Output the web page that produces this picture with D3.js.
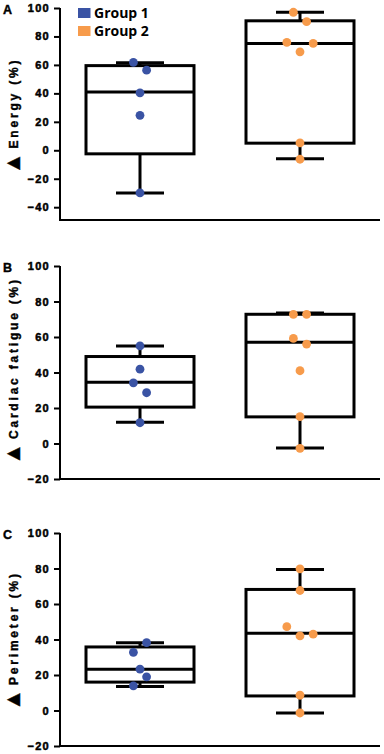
<!DOCTYPE html>
<html><head><meta charset="utf-8">
<script src="https://cdn.jsdelivr.net/npm/d3@7"></script>
<style>body{margin:0;background:#fff}svg{display:block}</style>
</head><body>
<svg id="chart" width="384" height="754"></svg>
<script>
const groups = ["Group 1", "Group 2"];
const colors = ["#3a53a4", "#f79b4b"];
const yTicks = [[-40,-20,0,20,40,60,80,100],[-20,0,20,40,60,80,100],[-20,0,20,40,60,80,100]];
const panelLetters = ["A","B","C"];
const panelLabels = ["Energy (%)", "Cardiac fatigue (%)", "Perimeter (%)"];

// box stats: [whiskerLow, q1, median, q3, whiskerHigh]
const energyStats = [[-30, -2.5, 41, 59.5, 61.5], [-6, 5, 75, 91, 97]];
const fatigueStats = [[12, 20.5, 34.5, 49, 55], [-2.5, 15, 57, 72.8, 73.5]];
const perimeterStats = [[13.5, 16, 23.2, 35.8, 38.2], [-1.4, 8.2, 43.5, 68.2, 79.5]];

// individual points
const energyG1 = [61.8, 56.3, 40.4, 24.6, -30];
const energyG2 = [97, 90.4, 75.8, 75.1, 69.2, 5.2, -6.3];
const fatigueG1 = [55, 41.9, 34.2, 28.6, 11.7];
const fatigueG2 = [72.8, 72.8, 59.2, 56, 41, 15.1, -2.7];
const perimeterG1 = [38.2, 32.8, 23.3, 19, 13.9];
const perimeterG2 = [79.8, 67.6, 47.2, 42, 43, 8.6, -1.4];
// beeswarm column index of each point
const energyG1Col = [-1, 1, 0, 0, 0];
const energyG2Col = [-1, 1, -2, 2, 0, 0, 0];
const fatigueG1Col = [0, 0, -1, 1, 0];
const fatigueG2Col = [-1, 1, -1, 1, 0, 0, 0];
const perimeterG1Col = [1, -1, 0, 1, -1];
const perimeterG2Col = [0, 0, -2, 0, 2, 0, 0];

const panels = [
  {stats: energyStats, pts: [energyG1, energyG2], cols: [energyG1Col, energyG2Col], dom: [-49, 100], range: [220, 8], labelY: 116},
  {stats: fatigueStats, pts: [fatigueG1, fatigueG2], cols: [fatigueG1Col, fatigueG2Col], dom: [-20, 100], range: [479, 266], labelY: 371},
  {stats: perimeterStats, pts: [perimeterG1, perimeterG2], cols: [perimeterG1Col, perimeterG2Col], dom: [-20, 100], range: [746, 533], labelY: 641}
];

const FONT = "'Liberation Sans', Arial, sans-serif";
const svg = d3.select("#chart");
const x = d3.scalePoint().domain(groups).range([60, 380]).padding(0.5);
const boxW = 108, capW = 48, colStep = 6.6;

panels.forEach((p, i) => {
  const y = d3.scaleLinear().domain(p.dom).range(p.range);
  const g = svg.append("g");
  // y axis
  const ax = g.append("g").attr("transform", "translate(60,0)")
    .call(d3.axisLeft(y).tickValues(yTicks[i]).tickSize(6).tickPadding(4).tickFormat(d3.format("d")));
  ax.select(".domain").attr("stroke", "#000").attr("stroke-width", 2).attr("d", `M0,${p.range[0]}V${p.range[1]}`);
  ax.selectAll(".tick line").attr("stroke", "#000").attr("stroke-width", 2);
  ax.selectAll(".tick text").attr("font-family", FONT)
    .attr("font-weight", "bold").attr("font-size", 11).attr("letter-spacing", 1.3)
    .attr("fill", "#000").attr("stroke", "#000").attr("stroke-width", 0.5);
  // x axis line
  g.append("line").attr("x1", 59).attr("x2", 380).attr("y1", p.range[0]).attr("y2", p.range[0])
    .attr("stroke", "#000").attr("stroke-width", 2);
  // boxes
  groups.forEach((gr, k) => {
    const s = p.stats[k], cx = x(gr);
    const bg = g.append("g").attr("stroke", "#000").attr("stroke-width", 3).attr("fill", "none");
    bg.append("line").attr("x1", cx).attr("x2", cx).attr("y1", y(s[0])).attr("y2", y(s[1]));
    bg.append("line").attr("x1", cx).attr("x2", cx).attr("y1", y(s[3])).attr("y2", y(s[4]));
    bg.append("line").attr("x1", cx - capW/2).attr("x2", cx + capW/2).attr("y1", y(s[0])).attr("y2", y(s[0]));
    bg.append("line").attr("x1", cx - capW/2).attr("x2", cx + capW/2).attr("y1", y(s[4])).attr("y2", y(s[4]));
    bg.append("rect").attr("x", cx - boxW/2).attr("width", boxW).attr("y", y(s[3])).attr("height", y(s[1]) - y(s[3]));
    bg.append("line").attr("x1", cx - boxW/2).attr("x2", cx + boxW/2).attr("y1", y(s[2])).attr("y2", y(s[2]));
    g.append("g").selectAll("circle").data(p.pts[k]).join("circle")
      .attr("cx", (d, j) => cx + p.cols[k][j] * colStep)
      .attr("cy", d => y(d)).attr("r", 4.4).attr("fill", colors[k]);
  });
  // panel letter
  g.append("text").attr("x", 3).attr("y", p.range[1] + 6).text(panelLetters[i])
    .attr("font-family", FONT).attr("font-weight", "bold").attr("font-size", 12.5)
    .attr("stroke", "#000").attr("stroke-width", 0.4);
  // y label
  const t = g.append("text").attr("transform", `translate(17.5,${p.labelY}) rotate(-90)`).attr("text-anchor", "middle")
    .attr("font-family", FONT).attr("font-weight", "bold").attr("font-size", 12)
    .attr("letter-spacing", 2.8).attr("stroke", "#000").attr("stroke-width", 0.4);
  t.append("tspan").attr("font-size", 22).attr("letter-spacing", 0).attr("dy", 2).text("▲");
  t.append("tspan").attr("dy", -2).attr("dx", 4).text(panelLabels[i]);
});

// legend
const lg = svg.append("g");
groups.forEach((gr, k) => {
  lg.append("rect").attr("x", 78).attr("y", 8 + k * 18).attr("width", 12.5).attr("height", 10).attr("fill", colors[k]);
  lg.append("text").attr("x", 94).attr("y", 18 + k * 18).text(gr)
    .attr("font-family", "'Open Sans', sans-serif").attr("font-weight", "bold").attr("font-size", 14);
});
</script>
</body></html>
